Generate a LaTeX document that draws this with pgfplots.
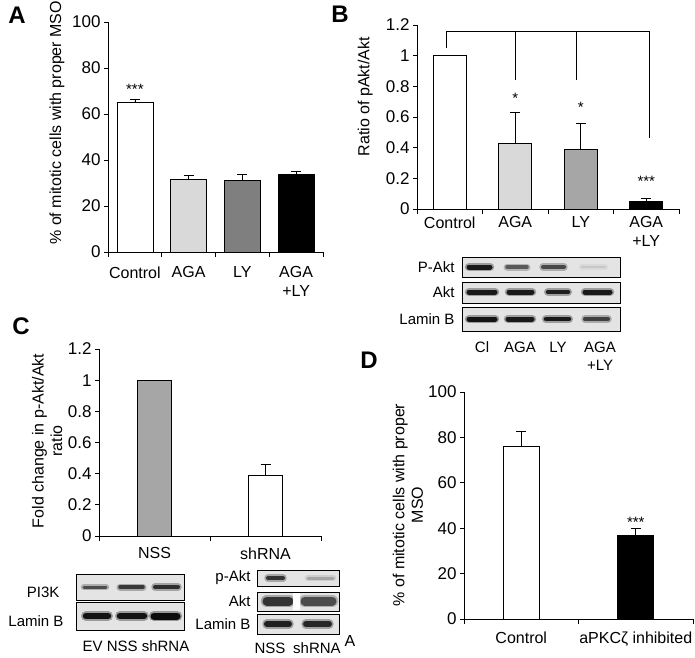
\documentclass[border=0pt]{standalone}
\usepackage{fontspec}
\setmainfont{Liberation Sans}
\usepackage{pgfplots}
\pgfplotsset{compat=1.18}

\definecolor{lightbar}{HTML}{D9D9D9}
\definecolor{darkbar}{HTML}{7F7F7F}
\definecolor{midbar}{HTML}{A6A6A6}
\definecolor{blotbg}{HTML}{E4E4E4}

\newcommand\lab{\fontsize{16}{18.5}\selectfont}
\newcommand\tlab{\fontsize{17}{19}\selectfont}
\newcommand\blab{\fontsize{15}{17}\selectfont}
\newcommand\panel{\fontsize{24}{26}\selectfont\bfseries}

\pgfplotsset{
  chart/.style={
    scale only axis, anchor=south west, clip=false,
    axis x line*=bottom, axis y line*=left,
    axis line style={black, line width=0.7pt, -},
    tick align=outside, major tick length=4pt, minor tick length=5pt,
    every tick/.style={black, line width=0.7pt},
    major x tick style={draw=none},
    ymin=0,
    yticklabel style={font=\tlab},
    xticklabel style={font=\lab, align=center},
    label style={font=\lab},
    /pgf/number format/assume math mode=true,
  },
  mybar/.style={ybar, bar width=#1, draw=black, line width=0.7pt},
  err/.style={error bars/.cd, y dir=plus, y explicit,
    error bar style={black, line width=0.7pt},
    error mark options={black, line width=0.7pt, mark size=5pt, rotate=90}},
}

% blot helpers: box x1 y1 x2 y2 ; band x1 x2 y thickness darkness
\newcommand\blot[4]{\addplot[draw=black, line width=0.8pt, fill=blotbg] coordinates {(#1,#2) (#3,#2) (#3,#4) (#1,#4) (#1,#2)};}
\newcommand\band[5]{%
  \addplot[line width=#4pt+3.5pt, black!#5, opacity=0.35, line cap=round] coordinates {(#1,#3) (#2,#3)};
  \addplot[line width=#4pt, black!#5, line cap=round] coordinates {(#1,#3) (#2,#3)};}

\begin{document}
\begin{tikzpicture}
\useasboundingbox (0,0) rectangle (695pt,657pt);

% ---- A
\begin{axis}[chart, at={(108pt,405pt)}, width=215pt, height=230pt,
  xmin=-0.5, xmax=3.5, ymax=100, ytick={0,20,40,60,80,100},
  xtick={0,1,2,3}, xticklabels={Control,AGA,LY,{AGA\\+LY}},
  xticklabel style={yshift=-7pt},
  minor xtick={-0.5,0.5,1.5,2.5,3.5},
  ylabel={\% of mitotic cells with proper MSO},
  ylabel style={at={(axis description cs:-0.237,0.562)}, anchor=center},
]
\addplot[mybar=36pt, fill=white, err] coordinates {(0,65.2) +- (0,1.3)};
\addplot[mybar=36pt, fill=lightbar, err] coordinates {(1,31.7) +- (0,1.6)};
\addplot[mybar=36pt, fill=darkbar, err] coordinates {(2,31.2) +- (0,2.6)};
\addplot[mybar=36pt, fill=black, err] coordinates {(3,33.9) +- (0,1.2)};
\node[font=\blab, yshift=-3pt] at (axis cs:0,72) {***};
\end{axis}

% ---- B
\begin{axis}[chart, at={(417pt,448pt)}, width=262pt, height=184pt,
  xmin=-0.5, xmax=3.5, ymax=1.2, ytick={0,0.2,0.4,0.6,0.8,1,1.2},
  xtick={0,1,2,3}, xticklabels={Control,AGA,LY,{AGA\\+LY}},
  minor xtick={-0.5,0.5,1.5,2.5,3.5},
  ylabel={Ratio of pAkt/Akt},
  ylabel style={at={(axis description cs:-0.198,0.61)}, anchor=center},
]
\addplot[mybar=33pt, fill=white] coordinates {(0,1)};
\addplot[mybar=33pt, fill=lightbar, err] coordinates {(1,0.43) +- (0,0.20)};
\addplot[mybar=33pt, fill=midbar, err] coordinates {(2,0.39) +- (0,0.17)};
\addplot[mybar=33pt, fill=black, err] coordinates {(3,0.05) +- (0,0.02)};
\addplot[sharp plot, black, line width=0.7pt] coordinates {(-0.05,1.05) (-0.05,1.157) (3.05,1.157) (3.05,0.46)};
\addplot[sharp plot, black, line width=0.7pt] coordinates {(1,1.157) (1,0.84)};
\addplot[sharp plot, black, line width=0.7pt] coordinates {(1.94,1.157) (1.94,0.84)};
\node[font=\blab, yshift=-3pt] at (axis cs:1,0.74) {*};
\node[font=\blab, yshift=-3pt] at (axis cs:2,0.68) {*};
\node[font=\blab, yshift=-3pt] at (axis cs:3,0.2) {***};
\end{axis}

% ---- C
\begin{axis}[chart, at={(99pt,121pt)}, width=222pt, height=187pt,
  xmin=-0.5, xmax=1.5, ymax=1.2, ytick={0,0.2,0.4,0.6,0.8,1,1.2},
  xtick={0,1}, xticklabels={NSS,shRNA},
  xticklabel style={yshift=-4pt},
  minor xtick={-0.5,0.5,1.5},
  ylabel={Fold change in p-Akt/Akt\\ratio},
  ylabel style={at={(axis description cs:-0.234,0.508)}, anchor=center, align=center},
]
\addplot[mybar=34pt, fill=midbar] coordinates {(0,1)};
\addplot[mybar=34pt, fill=white, err] coordinates {(1,0.387) +- (0,0.073)};
\end{axis}

% ---- D
\begin{axis}[chart, at={(464pt,38pt)}, width=229pt, height=227pt,
  xmin=-0.5, xmax=1.5, ymax=100, ytick={0,20,40,60,80,100},
  xtick={0,1}, xticklabels={Control,aPKCζ inhibited},
  xticklabel style={yshift=-5pt},
  minor xtick={-0.5,0.5,1.5},
  ylabel={\% of mitotic cells with proper\\MSO},
  ylabel style={at={(axis description cs:-0.245,0.502)}, anchor=center, align=center},
]
\addplot[mybar=36pt, fill=white, err] coordinates {(0,76.2) +- (0,6.3)};
\addplot[mybar=36pt, fill=black, err] coordinates {(1,37) +- (0,3)};
\node[font=\blab, yshift=-3pt] at (axis cs:1,44) {***};
\end{axis}

% ---- overlay in pixel units: panel letters and blots
\begin{axis}[at={(0pt,0pt)}, anchor=south west, scale only axis,
  width=695pt, height=657pt, xmin=0, xmax=695, ymin=0, ymax=657,
  y dir=reverse, hide axis, clip=false]
\node[font=\panel] at (axis cs:17,15) {A};
\node[font=\panel] at (axis cs:340,14) {B};
\node[font=\panel] at (axis cs:21,326) {C};
\node[font=\panel] at (axis cs:369,360) {D};
\node[font=\lab, inner sep=0pt] at (axis cs:350,641) {A};

% B blots
\blot{462}{257}{620}{277}
\blot{462}{282}{620}{303}
\blot{462}{307}{620}{331}
\band{469}{490}{267}{5}{90}
\band{507}{527}{267}{3.5}{65}
\band{543}{564}{267}{4}{72}
\band{582}{605}{267}{2.5}{22}
\band{469}{495}{292}{5}{90}
\band{509}{532}{292}{5}{90}
\band{548}{568}{292}{4.5}{88}
\band{585}{610}{292}{5}{90}
\band{469}{495}{319}{5}{92}
\band{508}{532}{319}{5}{90}
\band{546}{569}{319}{4.5}{90}
\band{585}{608}{319}{4}{75}
\node[font=\blab, anchor=east] at (axis cs:458,267) {P-Akt};
\node[font=\blab, anchor=east] at (axis cs:458,292) {Akt};
\node[font=\blab, anchor=east] at (axis cs:458,319) {Lamin B};
\node[font=\blab] at (axis cs:482,347) {Cl};
\node[font=\blab] at (axis cs:520,347) {AGA};
\node[font=\blab] at (axis cs:558,347) {LY};
\node[font=\blab] at (axis cs:600,347) {AGA};
\node[font=\blab] at (axis cs:600,365) {+LY};

% C left blots
\blot{76}{574}{184}{600}
\blot{76}{602}{184}{630}
\band{84}{106}{587}{3}{70}
\band{120}{143}{587}{3.5}{78}
\band{155}{178}{587}{4}{82}
\band{86}{108}{616}{6.5}{92}
\band{120}{144}{616}{6.5}{92}
\band{154}{177}{616}{7}{95}
\node[font=\blab, anchor=east] at (axis cs:63,592) {PI3K};
\node[font=\blab, anchor=east] at (axis cs:67,621) {Lamin B};
\node[font=\blab, inner sep=0pt] at (axis cs:136,646) {EV NSS shRNA};

% C right blots
\blot{257}{570}{339}{586}
\blot{257}{592}{339}{611}
\blot{257}{614}{339}{634}
\band{268}{283}{578}{4}{80}
\band{308}{333}{578}{3}{35}
\band{267}{289}{601}{9}{80}
\band{305}{332}{601}{9}{70}
\addplot[fill=white, draw=none] coordinates {(293,593) (300,593) (300,610) (293,610) (293,593)};
\band{267}{289}{624}{6}{88}
\band{306}{329}{624}{6}{85}
\node[font=\blab, anchor=east] at (axis cs:254,578) {p-Akt};
\node[font=\blab, anchor=east] at (axis cs:254,601) {Akt};
\node[font=\blab, anchor=east] at (axis cs:254,624) {Lamin B};
\node[font=\blab, inner sep=0pt] at (axis cs:270,648) {NSS};
\node[font=\blab, inner sep=0pt] at (axis cs:317,648) {shRNA};
\end{axis}
\end{tikzpicture}
\end{document}
